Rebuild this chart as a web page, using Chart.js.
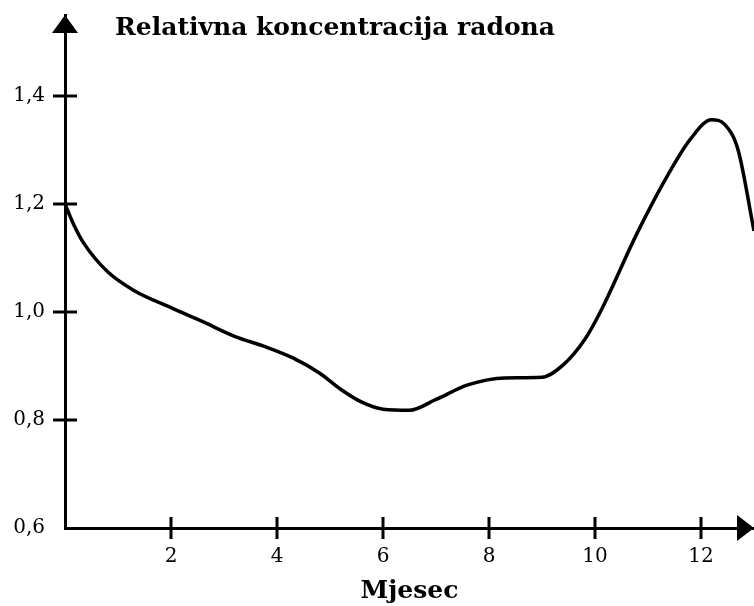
<!DOCTYPE html>
<html><head><meta charset="utf-8">
<script src="https://cdn.jsdelivr.net/npm/chart.js@4/dist/chart.umd.min.js"></script>
<style>html,body{margin:0;padding:0;background:#fff}</style>
</head><body>
<canvas id="c" width="754" height="606"></canvas>
<script>
const chartTitle = 'Relativna koncentracija radona';
const xAxisTitle = 'Mjesec';
const months = [0, 0.15, 0.35, 0.8, 1.3, 2, 2.6, 3.2, 3.8, 4.3, 4.8, 5.2, 5.6, 6.0, 6.5, 7.0, 7.6, 8.3, 9.0, 9.4, 9.8, 10.1, 10.8, 11.4, 11.8, 12.2, 12.45, 12.7, 13];
const concentration = [1.2, 1.165, 1.128, 1.075, 1.04, 1.008, 0.982, 0.955, 0.935, 0.915, 0.887, 0.857, 0.833, 0.82, 0.818, 0.838, 0.865, 0.878, 0.879, 0.902, 0.948, 1.0, 1.147, 1.258, 1.32, 1.356, 1.347, 1.3, 1.15];
const xTickValues = [2, 4, 6, 8, 10, 12];
const yTickValues = [0.6, 0.8, 1.0, 1.2, 1.4];
const xMin = 0, xMax = 13, yMin = 0.6, yMax = 1.55;

const serif = '"DejaVu Serif", serif';

const axisDecor = {
  id: 'axisDecor',
  afterDraw(chart) {
    const ctx = chart.ctx;
    const xs = chart.scales.x, ys = chart.scales.y;
    const left = chart.chartArea.left, bottom = chart.chartArea.bottom;
    const top = chart.chartArea.top, right = chart.chartArea.right;
    ctx.save();
    ctx.strokeStyle = '#000';
    ctx.fillStyle = '#000';
    ctx.lineWidth = 3;
    yTickValues.forEach(v => {
      if (v === yMin) return;
      const py = ys.getPixelForValue(v);
      ctx.beginPath(); ctx.moveTo(left - 12, py); ctx.lineTo(left + 12, py); ctx.stroke();
    });
    xTickValues.forEach(v => {
      const px = xs.getPixelForValue(v);
      ctx.beginPath(); ctx.moveTo(px, bottom - 11); ctx.lineTo(px, bottom + 11); ctx.stroke();
    });
    ctx.beginPath();
    ctx.moveTo(left, top); ctx.lineTo(left - 13, top + 18); ctx.lineTo(left + 13, top + 18); ctx.closePath(); ctx.fill();
    ctx.beginPath();
    ctx.moveTo(right, bottom); ctx.lineTo(right - 17, bottom - 13); ctx.lineTo(right - 17, bottom + 13); ctx.closePath(); ctx.fill();
    ctx.font = 'bold 25px ' + serif;
    ctx.textAlign = 'center';
    ctx.textBaseline = 'alphabetic';
    ctx.fillText(chartTitle, 335, 35);
    ctx.restore();
  }
};

new Chart(document.getElementById('c'), {
  type: 'line',
  data: {
    datasets: [{
      data: months.map((m, i) => ({ x: m, y: concentration[i] })),
      borderColor: '#000',
      borderWidth: 3.5,
      pointRadius: 0,
      fill: false,
      cubicInterpolationMode: 'monotone'
    }]
  },
  options: {
    responsive: false,
    animation: false,
    layout: { padding: { left: 0, right: 0, top: 15, bottom: 0 } },
    plugins: { legend: { display: false }, tooltip: { enabled: false }, title: { display: false } },
    scales: {
      x: {
        type: 'linear', min: xMin, max: xMax,
        afterBuildTicks: s => { s.ticks = xTickValues.map(v => ({ value: v })); },
        afterFit: s => { s.height = 78; s.paddingLeft = 0; s.paddingRight = 0; },
        grid: { display: false, drawTicks: false },
        border: { display: true, color: '#000', width: 3 },
        ticks: { color: '#000', font: { family: serif, size: 20 }, padding: 17, maxRotation: 0, callback: v => String(v) },
        title: { display: true, text: xAxisTitle, color: '#000', font: { family: serif, size: 25, weight: 'bold' }, padding: { top: 0, bottom: 0 } }
      },
      y: {
        type: 'linear', min: yMin, max: yMax,
        afterBuildTicks: s => { s.ticks = yTickValues.map(v => ({ value: v })); },
        afterFit: s => { s.width = 65; s.paddingTop = 0; s.paddingBottom = 0; },
        grid: { display: false, drawTicks: false },
        border: { display: true, color: '#000', width: 3 },
        ticks: { color: '#000', font: { family: serif, size: 20 }, padding: 20, callback: v => v.toFixed(1).replace('.', ',') }
      }
    }
  },
  plugins: [axisDecor]
});
</script>
</body></html>
